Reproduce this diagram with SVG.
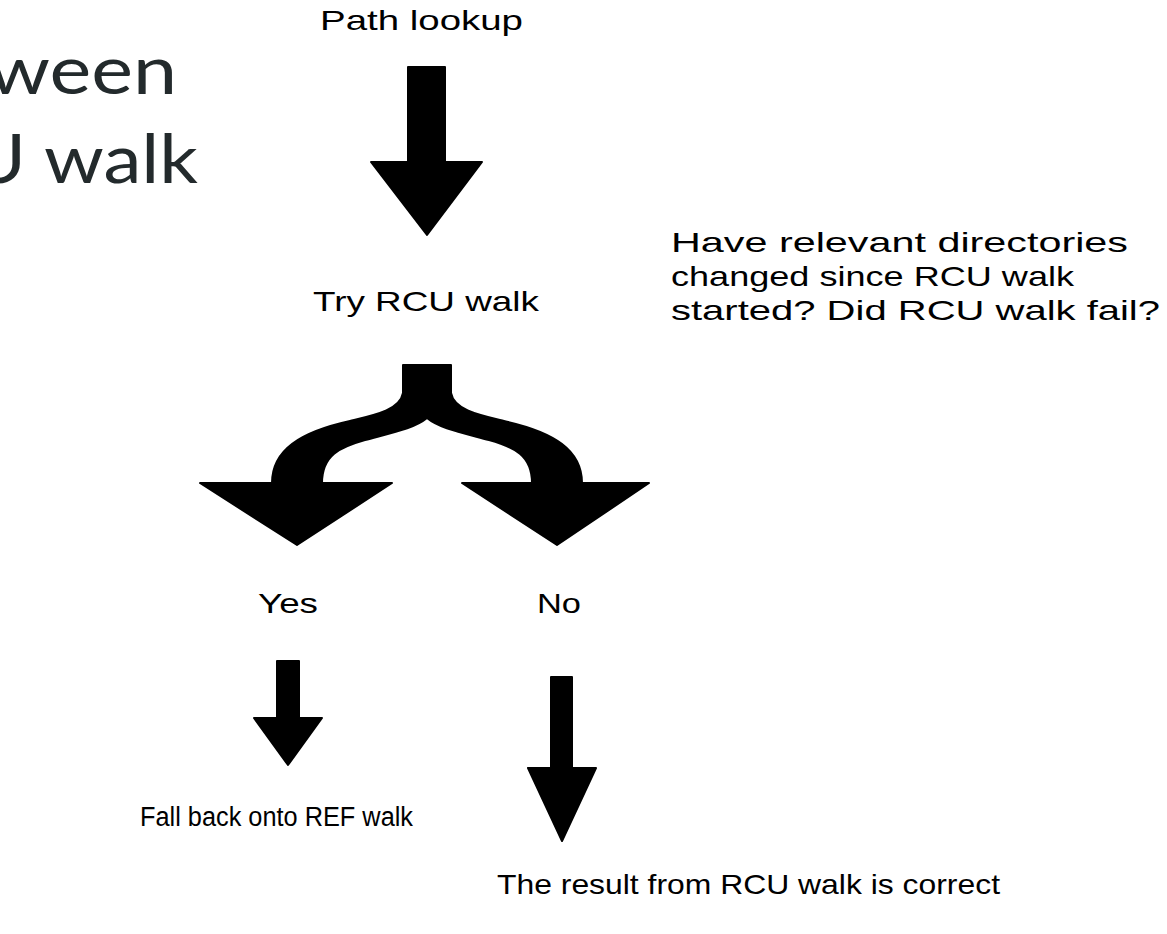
<svg xmlns="http://www.w3.org/2000/svg" width="1167" height="934" viewBox="0 0 1167 934">
  <style>
    .t { font-family: "Liberation Sans", Arial, sans-serif; font-size: 28px; fill: #000; }
    .h { font-family: Lato, "Open Sans", sans-serif; font-size: 68px; fill: #232a2c; }
    .arrow { fill: #000; stroke: #000; stroke-width: 2; stroke-linejoin: round; }
  </style>
  <rect width="1167" height="934" fill="#fff"/>
  <g id="title">
    <text class="h" x="-12" y="94" textLength="189" lengthAdjust="spacingAndGlyphs">ween</text>
    <text class="h" x="-30" y="183" textLength="228" lengthAdjust="spacingAndGlyphs">U walk</text>
  </g>
  <g id="node-path-lookup">
    <text class="t" x="320" y="30" textLength="203" lengthAdjust="spacingAndGlyphs">Path lookup</text>
  </g>
  <g id="node-try-rcu">
    <text class="t" x="313" y="311" textLength="226" lengthAdjust="spacingAndGlyphs">Try RCU walk</text>
  </g>
  <g id="node-question">
    <text class="t" x="671" y="252" textLength="457" lengthAdjust="spacingAndGlyphs">Have relevant directories</text>
    <text class="t" x="671" y="286" textLength="403" lengthAdjust="spacingAndGlyphs">changed since RCU walk</text>
    <text class="t" x="671" y="320" textLength="489" lengthAdjust="spacingAndGlyphs">started? Did RCU walk fail?</text>
  </g>
  <g id="node-yes">
    <text class="t" x="258" y="613" textLength="60" lengthAdjust="spacingAndGlyphs">Yes</text>
  </g>
  <g id="node-no">
    <text class="t" x="537" y="613" textLength="44" lengthAdjust="spacingAndGlyphs">No</text>
  </g>
  <g id="node-fallback">
    <text class="t" x="140" y="826" style="font-size:27px" textLength="273" lengthAdjust="spacingAndGlyphs">Fall back onto REF walk</text>
  </g>
  <g id="node-result">
    <text class="t" x="497" y="894" textLength="503" lengthAdjust="spacingAndGlyphs">The result from RCU walk is correct</text>
  </g>
  <g id="connectors">
    <path class="arrow" d="M408,67 H445 V162 H482 L427,235 L371,162 H408 Z"/>
    <path class="arrow" d="M403,365 H451 V393 C454,410 479,415 504,421 C554,432 582,450 582,483 H649 L557,545 L462,483 H532 C532,455 514,447 489,440 C459,432 439,428 427,418 C415,428 395,432 365,440 C340,447 322,455 322,483 H392 L297,545 L200,483 H272 C272,450 300,432 350,421 C375,415 400,410 403,393 Z"/>
    <path class="arrow" d="M277,661 H299 V718 H322 L288,765 L254,718 H277 Z"/>
    <path class="arrow" d="M551,677 H572 V768 H596 L562,841 L528,768 H551 Z"/>
  </g>
</svg>
